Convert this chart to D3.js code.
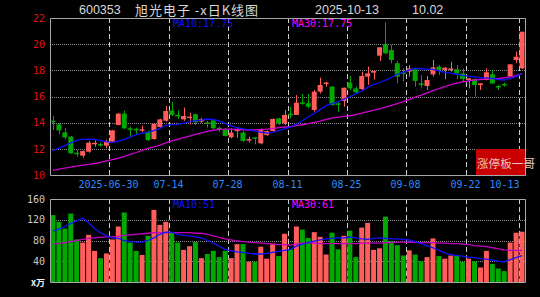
<!DOCTYPE html>
<html>
<head>
<meta charset="utf-8">
<script src="https://cdn.jsdelivr.net/npm/d3@7"></script>
<style>
  html, body { margin: 0; padding: 0; background: #000; }
  svg { display: block; }
</style>
</head>
<body>
<div id="chart"></div>
<script>
const dates = [
  "2025-06-16","2025-06-17","2025-06-18","2025-06-19","2025-06-20","2025-06-23","2025-06-24","2025-06-25","2025-06-26","2025-06-27",
  "2025-06-30","2025-07-01","2025-07-02","2025-07-03","2025-07-04","2025-07-07","2025-07-08","2025-07-09","2025-07-10","2025-07-11",
  "2025-07-14","2025-07-15","2025-07-16","2025-07-17","2025-07-18","2025-07-21","2025-07-22","2025-07-23","2025-07-24","2025-07-25",
  "2025-07-28","2025-07-29","2025-07-30","2025-07-31","2025-08-01","2025-08-04","2025-08-05","2025-08-06","2025-08-07","2025-08-08",
  "2025-08-11","2025-08-12","2025-08-13","2025-08-14","2025-08-15","2025-08-18","2025-08-19","2025-08-20","2025-08-21","2025-08-22",
  "2025-08-25","2025-08-26","2025-08-27","2025-08-28","2025-08-29","2025-09-01","2025-09-02","2025-09-03","2025-09-04","2025-09-05",
  "2025-09-08","2025-09-09","2025-09-10","2025-09-11","2025-09-12","2025-09-15","2025-09-16","2025-09-17","2025-09-18","2025-09-19",
  "2025-09-22","2025-09-23","2025-09-24","2025-09-25","2025-09-26","2025-09-29","2025-09-30","2025-10-09","2025-10-10","2025-10-13"
];

const opens = [
  14.15,13.87,13.26,12.93,11.70,11.48,11.78,12.37,12.36,12.24,
  12.55,13.82,14.69,13.57,13.52,13.39,13.31,12.75,13.67,14.15,
  14.92,14.59,14.25,14.40,14.64,14.08,14.02,14.18,13.60,13.49,
  12.88,13.39,13.24,12.68,12.88,12.42,13.05,13.36,14.33,13.95,
  14.69,14.59,15.55,15.48,14.97,16.37,17.00,16.75,15.48,15.66,
  17.06,16.62,16.57,17.52,17.82,19.12,19.99,19.55,18.54,17.85,
  17.90,18.08,17.00,16.80,17.69,18.28,18.03,18.03,18.08,17.77,
  17.26,17.34,16.88,17.26,17.70,16.80,16.96,17.52,18.79,18.15
];
const highs = [
  14.51,13.97,13.57,12.98,11.91,11.88,12.60,12.65,12.47,12.70,
  13.45,14.72,14.92,13.69,13.62,13.77,13.40,13.95,14.30,15.27,
  15.60,14.92,15.15,14.76,14.71,14.38,14.13,14.20,13.69,13.57,
  13.57,13.64,13.36,12.93,12.90,13.57,13.40,14.33,14.38,14.97,
  15.22,16.11,16.19,16.19,16.50,17.44,17.13,16.80,15.55,16.67,
  17.57,16.75,17.90,18.28,17.98,19.76,21.67,19.94,18.71,18.15,
  18.41,18.10,17.64,17.57,18.79,18.41,18.25,18.66,18.41,18.15,
  17.39,17.39,17.00,18.15,18.03,16.88,17.06,18.46,19.43,20.95
];
const lows = [
  13.44,13.11,12.72,11.60,11.40,11.32,11.70,12.16,12.17,12.04,
  12.45,13.80,13.49,12.93,13.11,13.26,12.60,12.70,13.60,14.08,
  14.50,14.28,14.13,13.86,13.82,13.97,13.62,13.50,13.31,12.95,
  12.80,12.85,12.50,12.50,12.34,12.34,13.00,13.30,13.82,13.82,
  14.33,14.59,15.35,15.10,14.84,16.24,16.75,15.30,14.84,15.22,
  16.50,16.24,16.50,16.88,17.30,18.71,19.22,18.54,17.01,17.13,
  17.52,16.75,16.68,16.50,17.52,17.64,17.31,17.90,17.34,17.13,
  16.62,15.99,16.50,17.24,16.96,16.50,16.75,17.52,18.54,18.10
];
const closes = [
  14.08,13.41,12.88,11.66,11.64,11.83,12.47,12.46,12.30,12.55,
  13.41,14.69,13.57,13.49,13.47,13.49,12.67,13.92,14.25,14.89,
  14.59,14.50,14.51,14.46,14.02,14.28,13.92,13.57,13.55,12.98,
  13.24,13.47,12.60,12.75,12.80,13.51,13.36,14.28,13.95,14.59,
  14.63,15.53,15.48,15.22,16.37,16.88,17.07,15.35,15.40,16.67,
  16.62,16.32,17.57,17.77,17.95,19.76,19.30,18.79,17.52,17.72,
  18.15,17.19,16.93,17.26,18.23,18.03,18.20,18.15,17.77,17.34,
  17.39,16.88,17.00,17.85,17.00,16.75,16.90,18.46,19.04,20.95
];
// volume in 万
const volumes = [
  129,116,103,132,82,76,91,60,46,55,
  82,107,134,76,60,52,89,139,110,116,
  95,76,62,69,77,46,54,60,48,60,
  46,73,73,39,39,68,45,74,50,93,
  63,107,101,85,96,87,53,95,63,89,
  99,48,105,114,62,65,126,79,71,51,
  61,53,40,48,84,50,45,51,51,39,
  45,40,28,60,35,26,21,76,95,97
];

// moving averages
const ma10 = [
  11.85,12.05,12.25,12.45,12.65,12.73,12.74,12.73,12.65,12.53,
  12.50,12.58,12.72,12.90,13.08,13.20,13.28,13.40,13.57,13.80,
  13.85,13.87,13.95,14.08,14.13,14.20,14.28,14.25,14.12,13.95,
  13.75,13.62,13.52,13.45,13.35,13.28,13.20,13.25,13.40,13.52,
  13.65,13.90,14.15,14.45,14.70,15.00,15.30,15.45,15.60,15.80,
  15.98,16.20,16.40,16.70,16.90,17.05,17.25,17.45,17.70,17.85,
  18.03,18.15,18.12,18.10,18.08,17.95,17.85,17.78,17.70,17.62,
  17.55,17.50,17.45,17.42,17.38,17.30,17.26,17.38,17.52,17.75
];
const ma30 = [
  10.35,10.45,10.52,10.60,10.68,10.75,10.82,10.88,10.97,11.08,
  11.17,11.28,11.42,11.58,11.72,11.88,12.03,12.15,12.28,12.45,
  12.60,12.72,12.85,12.97,13.10,13.22,13.33,13.42,13.48,13.50,
  13.50,13.48,13.46,13.44,13.45,13.47,13.50,13.55,13.62,13.67,
  13.70,13.77,13.84,13.92,14.02,14.12,14.25,14.35,14.42,14.48,
  14.53,14.62,14.73,14.85,14.95,15.05,15.18,15.32,15.45,15.60,
  15.76,15.95,16.10,16.28,16.45,16.60,16.76,16.90,17.03,17.12,
  17.20,17.26,17.30,17.34,17.36,17.38,17.42,17.50,17.60,17.75
];
const volMa10 = [
  98,102,107,113,118,123,114,103,95,89,
  85,84,80,78,77,77,80,85,92,96,
  96,92,90,89,87,85,80,75,69,63,
  60,58,57,55,54,54,55,57,59,61,
  63,69,73,76,79,81,83,84,85,85,
  87,85,83,82,84,85,84,83,83,82,
  81,78,74,70,66,61,56,53,51,50,
  48,47,45,44,42,40,39,43,47,51
];
const volMa30 = [
  73,74,76,78,80,82,84,85,86,87,
  87,88,90,91,92,93,94,95,95,95,
  95,95,95,95,94,94,92,89,86,83,
  81,79,78,77,76,75,74,73,72,72,
  71,73,75,76,75,74,74,74,74,74,
  74,74,75,75,75,75,76,76,77,77,
  77,76,76,76,76,75,75,74,74,73,
  72,70,69,68,66,64,62,61,61,61
];

const priceTicks = [10, 12, 14, 16, 18, 20, 22];
const volTicks = [40, 80, 120, 160];
const tickDates = ["2025-06-30","2025-07-14","2025-07-28","2025-08-11","2025-08-25","2025-09-08","2025-09-22","2025-10-13"];

const width = 540, height = 297;
const left = 50, right = 525;
const priceTop = 18, priceBottom = 175;
const volTop = 199, volBottom = 282;

const upColor = "#ff5c5c";
const downColor = "#00a800";
const gridColor = "#8c8c8c";
const frameColor = "#a8a8a8";
const mono = "'DejaVu Sans Mono', monospace";

const svg = d3.select("#chart")
  .append("svg")
  .attr("width", width)
  .attr("height", height)
  .style("background", "#000");

const x = d3.scaleBand()
  .domain(dates)
  .range([left, right])
  .paddingInner(0.16)
  .paddingOuter(0.08);
const bw = x.bandwidth();
const cx = d => x(d) + bw / 2;
const gridX = d => Math.round(x(d) - x.step() * x.paddingInner() / 2) + 0.5;

const y = d3.scaleLinear().domain([10, 22]).range([priceBottom, priceTop]);
const yv = d3.scaleLinear().domain([0, 160]).range([volBottom, volTop]);

const candles = dates.map((d, i) => ({
  date: d, open: opens[i], high: highs[i], low: lows[i], close: closes[i], vol: volumes[i]
}));
const colorOf = d => d.close >= d.open ? upColor : downColor;

// ---- grid lines (behind marks)
function drawGrid(yScale, values, top, bottom) {
  svg.append("g")
    .selectAll("line")
    .data(values)
    .enter()
    .append("line")
    .attr("x1", left).attr("x2", right)
    .attr("y1", d => Math.round(yScale(d)) + 0.5)
    .attr("y2", d => Math.round(yScale(d)) + 0.5)
    .attr("stroke", gridColor)
    .attr("stroke-dasharray", "1,1");

  svg.append("g")
    .selectAll("line")
    .data(tickDates)
    .enter()
    .append("line")
    .attr("x1", gridX).attr("x2", gridX)
    .attr("y1", top).attr("y2", bottom)
    .attr("stroke", "#cfcfcf")
    .attr("stroke-dasharray", "5,3");
}
drawGrid(y, [12, 14, 16, 18, 20], priceTop, priceBottom);
drawGrid(yv, [40, 80, 120], volTop, volBottom);

// ---- candles
const candleG = svg.append("g");
candleG.selectAll(".wick")
  .data(candles)
  .enter()
  .append("line")
  .attr("class", "wick")
  .attr("x1", d => Math.round(cx(d.date)) + 0.5)
  .attr("x2", d => Math.round(cx(d.date)) + 0.5)
  .attr("y1", d => y(d.high))
  .attr("y2", d => y(d.low))
  .attr("stroke", colorOf)
  .attr("stroke-width", 1);

candleG.selectAll(".body")
  .data(candles)
  .enter()
  .append("rect")
  .attr("class", "body")
  .attr("x", d => x(d.date))
  .attr("width", bw)
  .attr("y", d => y(Math.max(d.open, d.close)))
  .attr("height", d => Math.max(1.5, Math.abs(y(d.open) - y(d.close))))
  .attr("fill", colorOf);

// ---- volume bars
svg.append("g")
  .selectAll("rect")
  .data(candles)
  .enter()
  .append("rect")
  .attr("x", d => x(d.date))
  .attr("width", bw)
  .attr("y", d => yv(d.vol))
  .attr("height", d => volBottom - yv(d.vol))
  .attr("fill", colorOf);

// ---- moving average lines
function maLine(values, scale, color) {
  const line = d3.line()
    .x((d, i) => cx(dates[i]))
    .y(d => scale(d));
  svg.append("path")
    .datum(values)
    .attr("fill", "none")
    .attr("stroke", color)
    .attr("stroke-width", 1.3)
    .attr("d", line);
}
maLine(ma30, y, "#d000d0");
maLine(ma10, y, "#1010ff");
maLine(volMa30, yv, "#c000c0");
maLine(volMa10, yv, "#1010ff");

// ---- frames
function frame(top, bottom) {
  svg.append("path")
    .attr("d", `M${left + 0.5},${bottom + 0.5}V${top + 0.5}H${right + 0.5}V${bottom + 0.5}H${left + 0.5}`)
    .attr("fill", "none")
    .attr("stroke", frameColor);
}
frame(priceTop, priceBottom);
frame(volTop, volBottom);

// ---- axes
const priceAxis = svg.append("g")
  .attr("transform", `translate(${left},0)`)
  .call(d3.axisLeft(y).tickValues(priceTicks).tickSize(0).tickPadding(5));
priceAxis.select(".domain").remove();
priceAxis.selectAll("text")
  .attr("fill", "#e01010")
  .style("font-family", mono)
  .style("font-size", "10px");

const volAxis = svg.append("g")
  .attr("transform", `translate(${left},0)`)
  .call(d3.axisLeft(yv).tickValues(volTicks).tickSize(0).tickPadding(5));
volAxis.select(".domain").remove();
volAxis.selectAll("text")
  .attr("fill", "#c8c8c8")
  .style("font-family", mono)
  .style("font-size", "10px");

svg.append("text")
  .attr("x", 45)
  .attr("y", 286)
  .attr("text-anchor", "end")
  .attr("fill", "#f0f0f0")
  .style("font-family", "'Noto Sans CJK SC', sans-serif")
  .style("font-size", "9px")
  .style("font-weight", "bold")
  .text("x万");

// date labels, centred on the dashed grid lines; the last one ends there
svg.append("g")
  .selectAll("text")
  .data(tickDates)
  .enter()
  .append("text")
  .attr("x", (d, i) => i === tickDates.length - 1 ? gridX(d) : gridX(d) - 1)
  .attr("y", 188)
  .attr("text-anchor", (d, i) => i === tickDates.length - 1 ? "end" : "middle")
  .attr("fill", "#2a8cff")
  .style("font-family", mono)
  .style("font-size", "10px")
  .text((d, i) => i === 0 ? d : d.slice(5));

// ---- MA labels
const maLabels = [
  { text: "MA10:17.75", x: 173, y: 27, color: "#1010ff" },
  { text: "MA30:17.75", x: 292, y: 27, color: "#ff00ff" },
  { text: "MA10:51", x: 173, y: 208, color: "#1010ff" },
  { text: "MA30:61", x: 292, y: 208, color: "#ff00ff" }
];
svg.append("g")
  .selectAll("text")
  .data(maLabels)
  .enter()
  .append("text")
  .attr("x", d => d.x)
  .attr("y", d => d.y)
  .attr("fill", d => d.color)
  .style("font-family", mono)
  .style("font-size", "10px")
  .text(d => d.text);

// ---- title
const title = svg.append("g")
  .attr("fill", "#d8d8d8")
  .style("font-size", "12.5px");
title.append("text").attr("x", 79).attr("y", 14)
  .style("font-family", "'Liberation Sans', sans-serif").text("600353");
title.append("text").attr("x", 135).attr("y", 15)
  .attr("textLength", 123).attr("lengthAdjust", "spacing")
  .style("font-family", "'Noto Sans CJK SC', sans-serif").style("font-size", "13px")
  .text("旭光电子 -x日K线图");
title.append("text").attr("x", 315).attr("y", 14)
  .style("font-family", "'Liberation Sans', sans-serif").text("2025-10-13");
title.append("text").attr("x", 412).attr("y", 14)
  .style("font-family", "'Liberation Sans', sans-serif").text("10.02");

// ---- tag box
svg.append("rect")
  .attr("x", 476).attr("y", 149)
  .attr("width", 49).attr("height", 26)
  .attr("fill", "#c80000");
svg.append("text")
  .attr("x", 477).attr("y", 168)
  .attr("fill", "#e8c4c4")
  .style("font-family", "'Noto Sans CJK SC', sans-serif")
  .style("font-size", "11.6px")
  .text("涨停板一哥");
</script>
</body>
</html>
